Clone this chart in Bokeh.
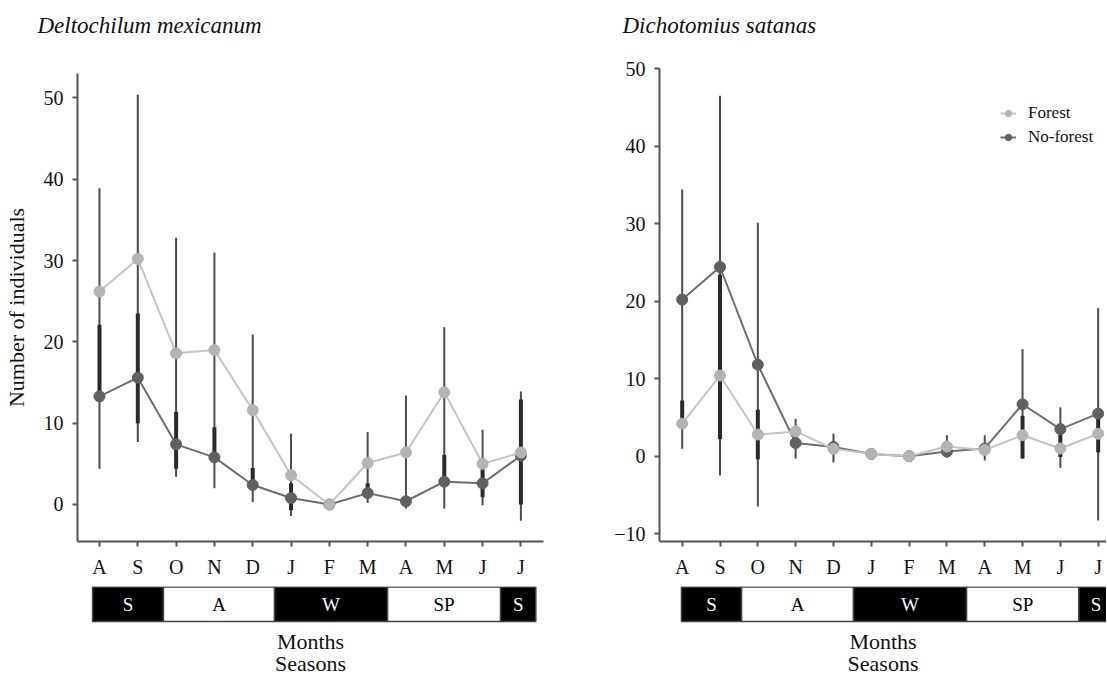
from bokeh.plotting import figure
from bokeh.layouts import row, column
from bokeh.models import Range1d, FixedTicker, Legend, LegendItem, ColumnDataSource
from bokeh.embed import file_html
from bokeh.resources import INLINE

# ---------------- data ----------------
months = ["A", "S", "O", "N", "D", "J", "F", "M", "A", "M", "J", "J"]
seasons = ["S", "A", "W", "SP", "S"]

# Deltochilum mexicanum
dm_forest = [26.2, 30.2, 18.6, 19.0, 11.6, 3.6, 0.0, 5.1, 6.4, 13.8, 5.0, 6.4]
dm_noforest = [13.3, 15.6, 7.4, 5.8, 2.4, 0.8, 0.0, 1.4, 0.4, 2.8, 2.6, 6.0]
dm_thin_lo = [4.4, 7.7, 3.4, 2.0, 0.3, -1.4, 0.0, 0.2, -0.5, -0.5, -0.1, -2.0]
dm_thin_hi = [38.9, 50.4, 32.8, 31.0, 20.9, 8.7, 0.0, 8.9, 13.4, 21.8, 9.2, 13.9]
dm_thick_lo = [12.6, 10.0, 4.4, 5.8, 2.4, -0.7, 0.0, 1.4, 0.0, 2.8, 0.9, 0.0]
dm_thick_hi = [22.1, 23.5, 11.4, 9.5, 4.5, 2.6, 0.0, 2.6, 0.6, 6.1, 4.4, 12.9]
dm_season_bounds = [-0.18, 1.67, 4.57, 7.52, 10.47, 11.39]

# Dichotomius satanas
ds_forest = [4.2, 10.4, 2.8, 3.2, 0.95, 0.3, 0.0, 1.25, 0.8, 2.7, 1.0, 2.9]
ds_noforest = [20.2, 24.4, 11.8, 1.7, 1.2, 0.3, 0.0, 0.6, 1.0, 6.7, 3.5, 5.5]
ds_thin_lo = [0.95, -2.5, -6.5, -0.3, -0.8, 0.3, 0.0, -0.2, -0.55, -0.3, -1.5, -8.3]
ds_thin_hi = [34.4, 46.5, 30.1, 4.8, 2.9, 0.3, 0.0, 2.7, 2.7, 13.8, 6.3, 19.1]
ds_thick_lo = [4.8, 2.2, -0.4, 1.7, 0.5, 0.3, 0.0, 0.3, 0.2, -0.3, -0.1, 0.5]
ds_thick_hi = [7.2, 23.4, 6.0, 3.2, 1.8, 0.3, 0.0, 1.2, 1.0, 5.2, 3.7, 5.5]
ds_season_bounds = [-0.02, 1.57, 4.53, 7.52, 10.49, 11.4]

dm_yticks = [0, 10, 20, 30, 40, 50]
ds_yticks = [-10, 0, 10, 20, 30, 40, 50]

# ---------------- style ----------------
FONT = "Liberation Serif"
FOREST_DOT = "#b4b4b4"
FOREST_LINE = "#c4c4c4"
NOF_DOT = "#606060"
NOF_LINE = "#6e6e6e"
THIN_C = "#4c4c4c"
THICK_C = "#2a2a2a"
AXIS_C = "#555555"
HEADER_H = 50


def header_panel(title, width, text_x):
    p = figure(width=width, height=HEADER_H, x_range=Range1d(0, width),
               y_range=Range1d(0, HEADER_H), output_backend="svg", toolbar_location=None,
               x_axis_location=None, y_axis_location=None,
               min_border_left=0, min_border_right=0, min_border_top=0, min_border_bottom=0)
    p.frame_align = False
    p.grid.visible = False
    p.outline_line_color = None
    p.text(x=[text_x], y=[HEADER_H - 25], text=[title], text_color="#111111",
           text_font={"value": FONT}, text_font_size="23px", text_font_style="italic",
           text_align="left", text_baseline="middle")
    return p


def main_panel(width, border_left, border_right, border_top, border_bottom,
               height, xr, yr, yticks, forest, nof, thin_lo, thin_hi, thick_lo, thick_hi,
               ylabel=None, legend=False):
    p = figure(width=width, height=height, x_range=xr, y_range=yr,
               output_backend="svg", toolbar_location=None,
               min_border_left=border_left, min_border_right=border_right,
               min_border_top=border_top, min_border_bottom=border_bottom)
    p.grid.visible = False
    p.outline_line_color = None
    p.background_fill_color = "white"
    p.border_fill_color = "white"

    x = list(range(len(months)))
    src = ColumnDataSource(dict(x=x, f=forest, n=nof, tlo=thin_lo, thi=thin_hi,
                                klo=thick_lo, khi=thick_hi))
    p.segment(x0="x", y0="tlo", x1="x", y1="thi", source=src, line_color=THIN_C, line_width=2)
    p.segment(x0="x", y0="klo", x1="x", y1="khi", source=src, line_color=THICK_C, line_width=4)
    nl = p.line("x", "n", source=src, line_color=NOF_LINE, line_width=2)
    ns = p.scatter("x", "n", source=src, size=11, fill_color=NOF_DOT, line_color=NOF_DOT)
    fl = p.line("x", "f", source=src, line_color=FOREST_LINE, line_width=2)
    fs = p.scatter("x", "f", source=src, size=11, fill_color=FOREST_DOT, line_color=FOREST_DOT)

    for ax in (p.xaxis[0], p.yaxis[0]):
        ax.axis_line_color = AXIS_C
        ax.axis_line_width = 2
        ax.major_tick_line_color = AXIS_C
        ax.major_tick_line_width = 2
        ax.major_tick_in = 0
        ax.major_tick_out = 5
        ax.minor_tick_line_color = None
        ax.major_label_text_font = FONT
        ax.major_label_text_font_size = "20px"
        ax.major_label_text_color = "#111111"
    p.xaxis[0].ticker = FixedTicker(ticks=x)
    p.xaxis[0].major_label_overrides = {i: m for i, m in enumerate(months)}
    p.xaxis[0].major_label_standoff = 9
    p.yaxis[0].ticker = FixedTicker(ticks=yticks)
    p.yaxis[0].major_label_standoff = 9
    if ylabel:
        p.yaxis[0].axis_label = ylabel
        p.yaxis[0].axis_label_text_font = FONT
        p.yaxis[0].axis_label_text_font_size = "22px"
        p.yaxis[0].axis_label_text_font_style = "normal"
        p.yaxis[0].axis_label_text_color = "#111111"
        p.yaxis[0].axis_label_standoff = 12

    if legend:
        lg = Legend(items=[LegendItem(label="Forest", renderers=[fl, fs]),
                           LegendItem(label="No-forest", renderers=[nl, ns])],
                    location=(341, 394), padding=0, margin=0, spacing=4,
                    glyph_width=16, glyph_height=20, label_standoff=12,
                    label_text_font=FONT, label_text_font_size="17px",
                    label_text_color="#111111",
                    border_line_color=None, background_fill_alpha=0)
        p.add_layout(lg)
    return p


def season_panel(width, border_left, border_right, xr, bounds):
    p = figure(width=width, height=93, x_range=xr, y_range=Range1d(0, 89),
               output_backend="svg", toolbar_location=None,
               x_axis_location=None, y_axis_location=None,
               min_border_left=border_left, min_border_right=border_right,
               min_border_top=4, min_border_bottom=0)
    p.grid.visible = False
    p.outline_line_color = None
    left = bounds[:-1]
    right = bounds[1:]
    fills = ["black" if i % 2 == 0 else "white" for i in range(len(seasons))]
    tcol = ["white" if i % 2 == 0 else "black" for i in range(len(seasons))]
    mid = [(a + b) / 2 for a, b in zip(left, right)]
    src = ColumnDataSource(dict(l=left, r=right, f=fills, t=seasons, tc=tcol, m=mid))
    p.quad(left="l", right="r", top=88.5, bottom=54, source=src,
           fill_color="f", line_color="#444444", line_width=1.5)
    p.text(x="m", y=71.5, text="t", source=src, text_color="tc",
           text_font={"value": FONT}, text_font_size="19px",
           text_align="center", text_baseline="middle")
    cx = (xr.start + xr.end) / 2
    p.text(x=[cx, cx], y=[34, 12], text=["Months", "Seasons"], text_color="#111111",
           text_font={"value": FONT}, text_font_size="22px",
           text_align="center", text_baseline="middle")
    return p


# geometry (Bokeh's page template has no body margin)
L_W, L_BL, L_BR = 590, 77, 47
R_W, R_BL, R_BR = 516, 69, 0
H = 582 - HEADER_H

xr_left = Range1d(-0.574, 11.59)
xr_right = Range1d(-0.60, 11.22)

h1 = header_panel("Deltochilum  mexicanum", L_W, 37)
h2 = header_panel("Dichotomius satanas", R_W, 32)
p1 = main_panel(L_W, L_BL, L_BR, 73 - HEADER_H, 41, H,
                xr_left, Range1d(-4.55, 53.0), dm_yticks,
                dm_forest, dm_noforest, dm_thin_lo, dm_thin_hi, dm_thick_lo, dm_thick_hi,
                ylabel="Number of individuals")
p2 = main_panel(R_W, R_BL, R_BR, 68 - HEADER_H, 41, H,
                xr_right, Range1d(-11.0, 50.0), ds_yticks,
                ds_forest, ds_noforest, ds_thin_lo, ds_thin_hi, ds_thick_lo, ds_thick_hi,
                legend=True)
b1 = season_panel(L_W, L_BL, L_BR, xr_left, dm_season_bounds)
b2 = season_panel(R_W, R_BL, R_BR, xr_right, ds_season_bounds)

layout = row(column(h1, p1, b1), column(h2, p2, b2))
open("out.html", "w").write(file_html(layout, INLINE))
